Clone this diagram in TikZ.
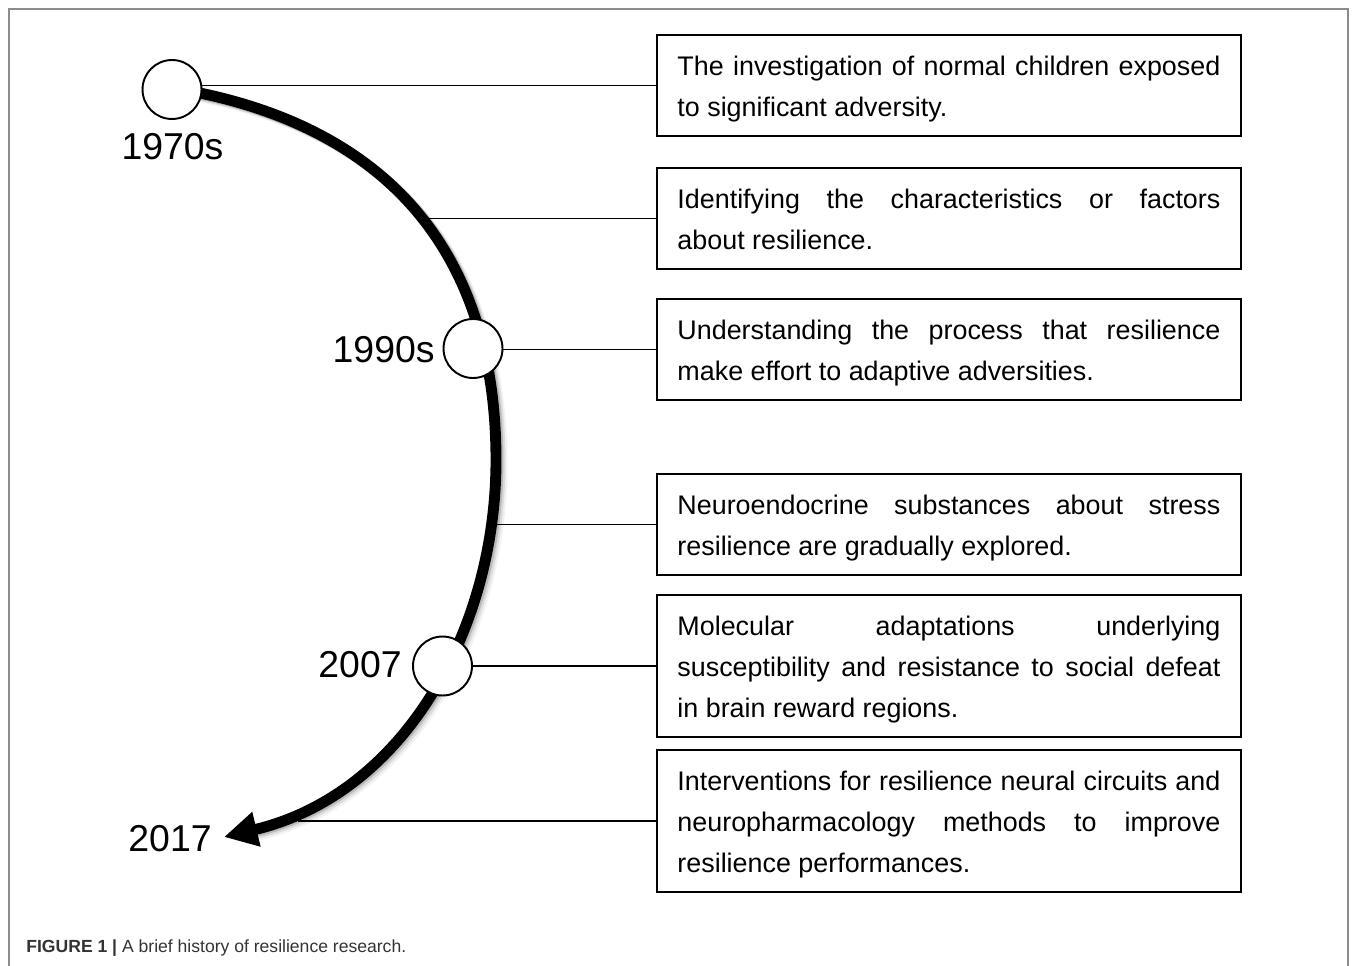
\documentclass[tikz,border=0pt]{standalone}
\usepackage{fontspec}
\setmainfont{Liberation Sans}
\usetikzlibrary{arrows.meta}

\newcommand\bxtop{\rule{0pt}{0.72cm}}
\newcommand\bxbot{\rule[-0.28cm]{0pt}{0.28cm}}

\tikzset{
  evtbox/.style={draw, line width=1.1pt, anchor=north west, text width=10.86cm,
    inner xsep=0.41cm, inner ysep=0.1cm, align=justify,
    font=\fontsize{15.3}{23.25}\selectfont},
  yrdot/.style={circle, draw, fill=white, line width=1.1pt, minimum size=1.18cm, inner sep=0pt},
  yrlabel/.style={inner sep=0pt, font=\fontsize{21.3}{25}\selectfont},
  link/.style={line width=1pt},
}

\begin{document}
\begin{tikzpicture}[x=0.02cm, y=-0.02cm]
            \useasboundingbox (0,0) rectangle (1355,966);
            \draw[black!45, line width=1pt] (9,966) -- (9,9) -- (1348,9) -- (1348,966);

            \def\arcpath{(195,92) .. controls (395,132) and (496,260) .. (496,460) .. controls (496,630) and (404,794) .. (224,837)}

            \node[evtbox] (b1) at (656,34) {\bxtop The investigation of normal children exposed\linebreak to significant adversity.\bxbot};
            \node[evtbox] (b2) at (656,167) {\bxtop Identifying the characteristics or factors\linebreak about resilience.\bxbot};
            \node[evtbox] (b3) at (656,298) {\bxtop Understanding the process that resilience\linebreak make effort to adaptive adversities.\bxbot};
            \node[evtbox] (b4) at (656,473) {\bxtop Neuroendocrine substances about stress\linebreak resilience are gradually explored.\bxbot};
            \node[evtbox] (b5) at (656,594) {\bxtop Molecular adaptations underlying\linebreak susceptibility and resistance to social defeat\linebreak in brain reward regions.\bxbot};
            \node[evtbox] (b6) at (656,749) {\bxtop Interventions for resilience neural circuits and\linebreak neuropharmacology methods to improve\linebreak resilience performances.\bxbot};

            % soft shadow under the time line
            \foreach \s/\o in {2/0.16, 4/0.09, 6/0.05}
                \draw[line width=6.2pt, black, opacity=\o, shift={(\s,\s*0.8)}, shorten >=17pt] \arcpath;
            \draw[line width=6.2pt, -{Triangle[length=19pt, width=19pt]}] \arcpath;

            \node[yrdot] (y70) at (172,89.5) {};
            \node[yrdot] (y90) at (473,348.5) {};
            \node[yrdot] (y07) at (442.5,666) {};

            \node[yrlabel, anchor=base] (t70) at (172.5,160) {1970s};
            \node[yrlabel, anchor=base east] (t90) at (435,362) {1990s};
            \node[yrlabel, anchor=base east] (t07) at (402,677) {2007};
            \node[yrlabel, anchor=base east] (t17) at (212,851) {2017};

            \coordinate (k2) at (421,217.5);
            \coordinate (k4) at (494,523.5);
            \coordinate (k6) at (298,820);

            \draw[link] (b1.west) -- (b1.west -| y70.east);
            \draw[link] (b2.west) -- (b2.west -| k2);
            \draw[link] (b3.west) -- (b3.west -| y90.east);
            \draw[link] (b4.west) -- (b4.west -| k4);
            \draw[link] (b5.west) -- (b5.west -| y07.east);
            \draw[link] (b6.west) -- (b6.west -| k6);

            \node[anchor=base west, inner sep=0pt, font=\fontsize{10}{12}\selectfont, text=black!80] (cap) at (26,952) {\textbf{FIGURE 1 |} A brief history of resilience research.};
\end{tikzpicture}
\end{document}
